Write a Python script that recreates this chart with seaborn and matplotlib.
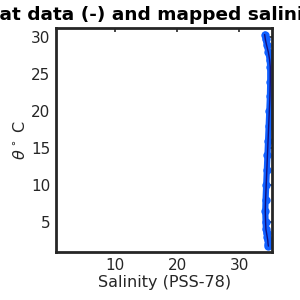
import matplotlib
matplotlib.use("Agg")
import matplotlib.pyplot as plt
import seaborn as sns
import pandas as pd

# Float profile (temperature vs salinity)
theta = [30.4, 29.8, 29.0, 28.0, 27.0, 26.0, 24.0, 22.0, 20.0, 18.0, 16.0, 14.0,
         12.0, 10.0, 8.0, 6.5, 5.0, 4.0, 3.5, 3.0, 2.5, 2.0, 1.7]
sal_float = [34.1, 34.2, 34.4, 34.7, 34.9, 35.0, 35.0, 34.95, 34.85, 34.75, 34.65, 34.55,
             34.45, 34.35, 34.25, 34.2, 34.25, 34.3, 34.4, 34.5, 34.6, 34.65, 34.7]
sal_mapped = [34.15, 34.25, 34.45, 34.7, 34.9, 35.0, 35.0, 34.95, 34.85, 34.75, 34.65, 34.55,
              34.45, 34.35, 34.25, 34.2, 34.25, 34.3, 34.4, 34.5, 34.6, 34.65, 34.7]
x_ticks = [10, 20, 30]
y_ticks = [5, 10, 15, 20, 25, 30]

df = pd.DataFrame({"theta": theta, "sal": sal_float, "mapped": sal_mapped})

sns.set_theme(style="white")
plt.rcParams['font.family'] = ['DejaVu Sans']
dark = "#262626"

fig = plt.figure(figsize=(3, 3), dpi=100)
ax = fig.add_axes([0.187, 0.16, 0.72, 0.747])

sns.lineplot(data=df, x="mapped", y="theta", sort=False, ax=ax, color="#1060ff",
             linewidth=4.5, marker="o", markersize=6, markeredgewidth=0, estimator=None)
sns.lineplot(data=df, x="sal", y="theta", sort=False, ax=ax, color="#101080",
             linewidth=1, estimator=None)

ax.set_xlim(0.5, 35.3)
ax.set_ylim(0.9, 31.3)
ax.set_xticks(x_ticks)
ax.set_yticks(y_ticks)
ax.tick_params(direction="in", length=3, width=1.2, top=True, right=True,
               labelsize=11, colors=dark, pad=4)
for s in ax.spines.values():
    s.set_color(dark)
    s.set_linewidth(2)
ax.set_xlabel("Salinity (PSS-78)", fontsize=11.5, color=dark, labelpad=2)
ax.set_ylabel(r"$\theta^\circ$ C", fontsize=11.5, color=dark, labelpad=2)
ax.set_title("Float data (-) and mapped salinity (o)", fontsize=13.3, fontweight="bold",
             color="black", pad=6)

fig.savefig("out.png", dpi=100)
